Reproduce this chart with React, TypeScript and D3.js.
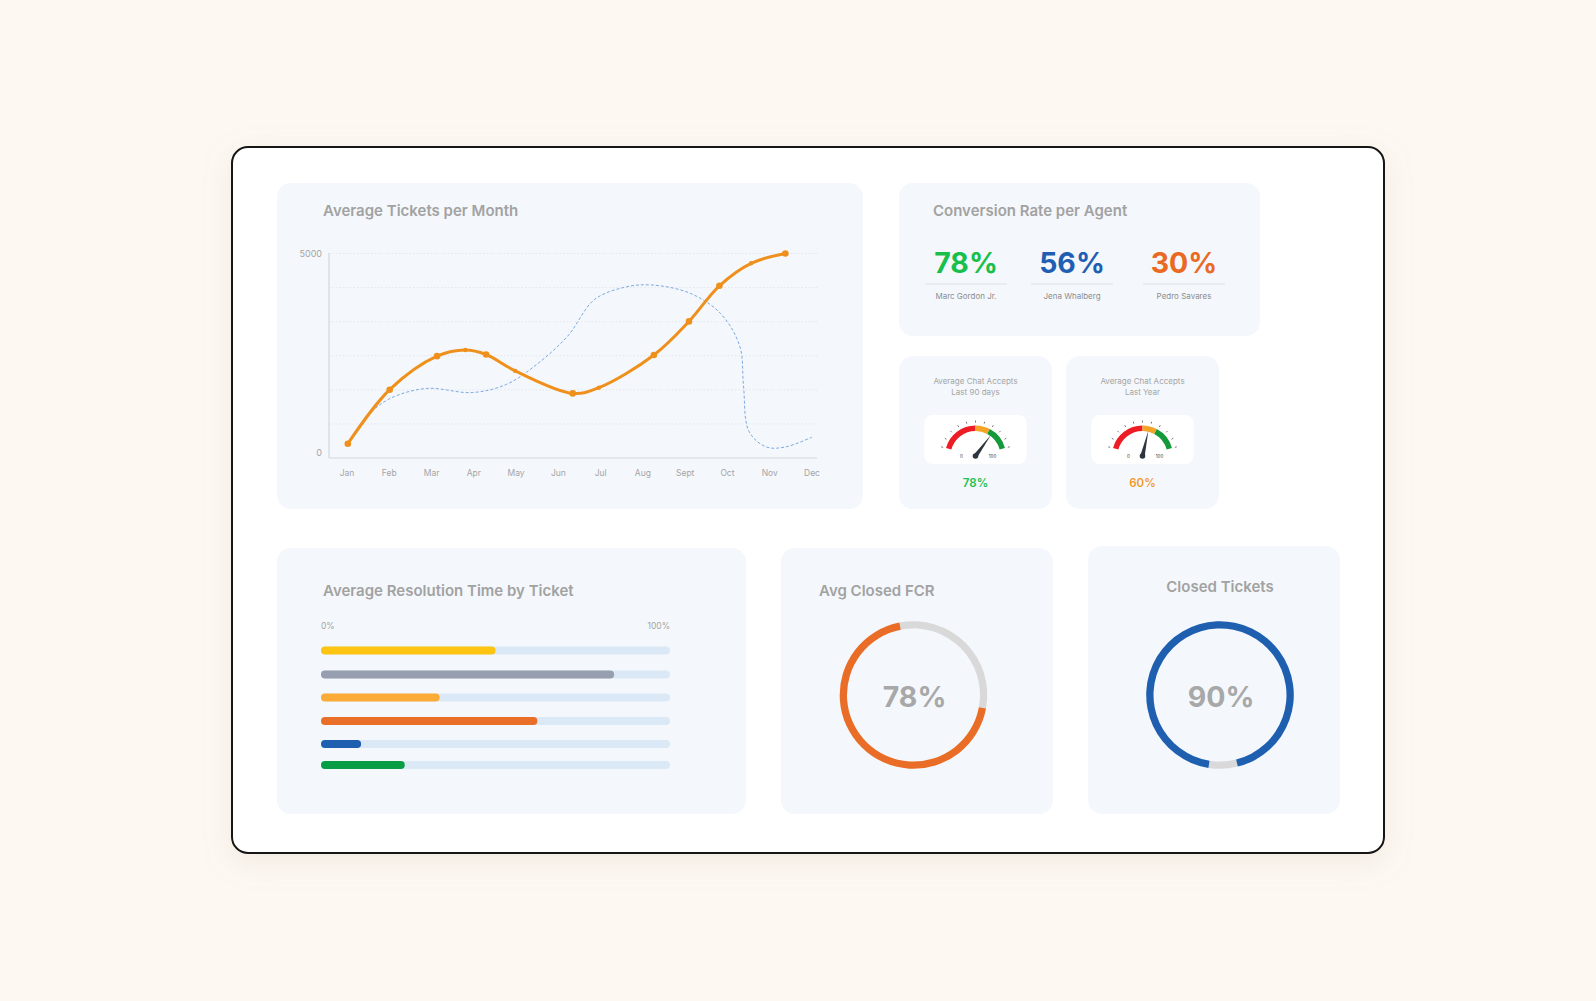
import React from 'react';
import * as d3 from 'd3';

const months = ['Jan', 'Feb', 'Mar', 'Apr', 'May', 'Jun', 'Jul', 'Aug', 'Sept', 'Oct', 'Nov', 'Dec'];
const yTickLabels = [0, 5000];
const gridSteps = 6;
// [month index, tickets]
const orangeSeries: [number, number][] = [
  [0.02, 350], [1.01, 1670], [2.13, 2490], [2.8, 2640], [3.29, 2530], [3.98, 2130],
  [5.34, 1580], [5.96, 1720], [7.26, 2520], [8.09, 3340], [8.81, 4210], [9.56, 4760], [10.37, 5000],
];
const orangeMarkers = [true, true, true, false, true, false, true, false, true, true, true, false, true];
const blueSeries: [number, number][] = [
  [0.02, 350], [0.47, 1010], [0.99, 1440], [1.87, 1700], [2.96, 1600], [3.77, 1800], [4.49, 2290],
  [5.22, 2980], [5.85, 3870], [6.57, 4175], [7.21, 4230], [8.11, 4030], [8.83, 3540], [9.29, 2740],
  [9.38, 1760], [9.51, 650], [9.92, 270], [10.37, 270], [11.0, 510],
];

const agentNames = ['Marc Gordon Jr.', 'Jena Whalberg', 'Pedro Savares'];
const agentRates = [78, 56, 30];
const agentColors = ['#19bf4b', '#1f5fb3', '#ea6a24'];

const gaugeTitles = [['Average Chat Accepts', 'Last 90 days'], ['Average Chat Accepts', 'Last Year']];
const gaugeValues = [78, 60];
const gaugeColors = ['#22c04e', '#f39a2b'];
const gaugeBands: [number, number, string][] = [[-75, 0, '#ee1d25'], [0, 28, '#f6a428'], [28, 75, '#159a3a']];

const resolutionValues = [50, 84, 34, 62, 11.5, 24];
const resolutionColors = ['#fdc512', '#969eb0', '#fdab37', '#e96e28', '#1e5fb0', '#079d45'];

const donutTitles = ['Avg Closed FCR', 'Closed Tickets'];
const donutLabels = [78, 90];
const donutFill = [0.69, 0.936];
const donutGapStart = [-11, 166];
const donutColors = ['#e96d27', '#1e5fb0'];

const FONT = 'Inter, "Open Sans", sans-serif';
const CARD = '#f4f8fc';
const TITLE = '#a2a2a2';

function Card({ x, y, w, h }: { x: number; y: number; w: number; h: number }) {
  return <rect x={x} y={y} width={w} height={h} rx={14} fill={CARD} />;
}

function LineChart() {
  const x = d3.scaleLinear().domain([0, 11]).range([347, 812]);
  const y = d3.scaleLinear().domain([0, 5000]).range([458, 253.5]);
  const line = d3.line<[number, number]>().x(d => x(d[0])).y(d => y(d[1])).curve(d3.curveCatmullRom.alpha(0.5));
  const grid = d3.range(gridSteps + 1).map(i => (i * 5000) / gridSteps);
  return (
    <g>
      <Card x={277} y={183} w={586} h={326} />
      <text x={323} y={216} fontSize={15} fontWeight={600} fill={TITLE} fontFamily={FONT}>Average Tickets per Month</text>
      {grid.slice(1).map((g, i) => (
        <line key={i} x1={329} x2={817} y1={y(g)} y2={y(g)} stroke="#e3e7ec" strokeDasharray="1.5,2" />
      ))}
      <line x1={329} x2={329} y1={253} y2={458} stroke="#d3d7dd" strokeWidth={1.2} />
      <line x1={329} x2={817} y1={458} y2={458} stroke="#d3d7dd" strokeWidth={1.2} />
      {yTickLabels.map(v => (
        <text key={v} x={322} y={v === 0 ? y(v) - 2 : y(v) + 3} textAnchor="end" fontSize={9} fill="#a5a5a5" fontFamily={FONT}>{v}</text>
      ))}
      {months.map((m, i) => (
        <text key={m} x={x(i)} y={476} textAnchor="middle" fontSize={8.5} fill="#a5a5a5" fontFamily={FONT}>{m}</text>
      ))}
      <path d={line(blueSeries) || ''} fill="none" stroke="#7ea8e0" strokeWidth={1} strokeDasharray="3,2" />
      <path d={line(orangeSeries) || ''} fill="none" stroke="#f0901c" strokeWidth={3} strokeLinecap="round" />
      {orangeSeries.map((d, i) => (
        <circle key={i} cx={x(d[0])} cy={y(d[1])} r={orangeMarkers[i] ? 3.3 : 2.2} fill="#f0901c" />
      ))}
    </g>
  );
}

function Conversion() {
  const cx = [966, 1072, 1184];
  return (
    <g>
      <Card x={899} y={183} w={361} h={153} />
      <text x={933} y={216} fontSize={15} fontWeight={600} fill={TITLE} fontFamily={FONT}>Conversion Rate per Agent</text>
      {agentRates.map((r, i) => (
        <g key={i}>
          <text x={cx[i]} y={273} textAnchor="middle" fontSize={28.5} fontWeight={700} fill={agentColors[i]} fontFamily={FONT}>{r}%</text>
          <line x1={cx[i] - 41} x2={cx[i] + 41} y1={284} y2={284} stroke="#dde2e8" strokeWidth={1} />
          <text x={cx[i]} y={299} textAnchor="middle" fontSize={8} fill="#8d8d8d" fontFamily={FONT}>{agentNames[i]}</text>
        </g>
      ))}
    </g>
  );
}

function Gauge({ i }: { i: number }) {
  const cardX = i === 0 ? 899 : 1066;
  const cx = cardX + 76.5;
  const cy = 456;
  const rad = (deg: number) => (deg * Math.PI) / 180;
  const arc = d3.arc<any>().innerRadius(25).outerRadius(30.5);
  const needle = d3.scaleLinear().domain([0, 100]).range([-65, 65]);
  const a = rad(needle(gaugeValues[i]));
  const len = 26;
  const tx = cx + len * Math.sin(a);
  const ty = cy - len * Math.cos(a);
  const px = Math.cos(a) * 2.2;
  const py = Math.sin(a) * 2.2;
  const ticks = d3.range(11).map(k => -75 + k * 15);
  return (
    <g>
      <Card x={cardX} y={356} w={153} h={153} />
      {gaugeTitles[i].map((t, k) => (
        <text key={k} x={cx} y={384 + k * 11} textAnchor="middle" fontSize={8} fill="#a4a4a4" fontFamily={FONT}>{t}</text>
      ))}
      <rect x={cx - 51} y={415} width={102} height={49} rx={8} fill="#ffffff" />
      <g transform={`translate(${cx},${cy})`}>
        {gaugeBands.map(([s, e, c], k) => (
          <path key={k} d={arc({ startAngle: rad(s), endAngle: rad(e) }) || ''} fill={c} />
        ))}
        {ticks.map((t, k) => (
          <line key={k} x1={33.5 * Math.sin(rad(t))} y1={-33.5 * Math.cos(rad(t))} x2={35.5 * Math.sin(rad(t))} y2={-35.5 * Math.cos(rad(t))} stroke="#555" strokeWidth={0.8} />
        ))}
        <text x={-14} y={2} textAnchor="middle" fontSize={4.5} fill="#333" fontFamily={FONT}>0</text>
        <text x={17} y={2} textAnchor="middle" fontSize={4.5} fill="#333" fontFamily={FONT}>100</text>
      </g>
      <path d={`M${cx - px},${cy - py} L${tx},${ty} L${cx + px},${cy + py} Z`} fill="#2d3540" />
      <circle cx={cx} cy={cy} r={2.8} fill="#2d3540" />
      <text x={cx} y={487} textAnchor="middle" fontSize={11.5} fontWeight={600} fill={gaugeColors[i]} fontFamily={FONT}>{gaugeValues[i]}%</text>
    </g>
  );
}

function Resolution() {
  const x = d3.scaleLinear().domain([0, 100]).range([321, 670]);
  const ys = [650.5, 674.5, 697.5, 721, 744, 765];
  return (
    <g>
      <Card x={277} y={548} w={469} h={266} />
      <text x={323} y={596} fontSize={15} fontWeight={600} fill={TITLE} fontFamily={FONT}>Average Resolution Time by Ticket</text>
      <text x={321} y={629} fontSize={8.5} fill="#a5a5a5" fontFamily={FONT}>0%</text>
      <text x={670} y={629} textAnchor="end" fontSize={8.5} fill="#a5a5a5" fontFamily={FONT}>100%</text>
      {resolutionValues.map((v, i) => (
        <g key={i}>
          <rect x={x(0)} y={ys[i] - 4} width={x(100) - x(0)} height={8} rx={4} fill="#dbe9f6" />
          <rect x={x(0)} y={ys[i] - 4} width={x(v) - x(0)} height={8} rx={4} fill={resolutionColors[i]} />
        </g>
      ))}
    </g>
  );
}

function Donut({ i }: { i: number }) {
  const card = i === 0 ? { x: 781, y: 548, w: 272, h: 266 } : { x: 1088, y: 546, w: 252, h: 268 };
  const cx = i === 0 ? 913.5 : 1220;
  const cy = 695;
  const rad = (deg: number) => (deg * Math.PI) / 180;
  const arc = d3.arc<any>().innerRadius(66.5).outerRadius(73.8);
  const gapStart = donutGapStart[i];
  const gapEnd = gapStart + (1 - donutFill[i]) * 360;
  return (
    <g>
      <Card {...card} />
      {i === 0 ? (
        <text x={819} y={596} fontSize={15} fontWeight={600} fill={TITLE} fontFamily={FONT}>{donutTitles[i]}</text>
      ) : (
        <text x={1220} y={592} textAnchor="middle" fontSize={15} fontWeight={600} fill={TITLE} fontFamily={FONT}>{donutTitles[i]}</text>
      )}
      <g transform={`translate(${cx},${cy})`}>
        <path d={arc({ startAngle: rad(gapStart), endAngle: rad(gapEnd) }) || ''} fill="#d9d9d9" />
        <path d={arc({ startAngle: rad(gapEnd), endAngle: rad(gapStart + 360) }) || ''} fill={donutColors[i]} />
        <text x={1} y={12} textAnchor="middle" fontSize={28.5} fontWeight={700} fill="#a8a8a8" fontFamily={FONT}>{donutLabels[i]}%</text>
      </g>
    </g>
  );
}

export default function App() {
  return (
    <svg width={1596} height={1001} style={{ position: 'absolute', left: 0, top: 0 }}>
      <defs>
        <filter id="sh" x="-10%" y="-10%" width="120%" height="130%">
          <feDropShadow dx={0} dy={8} stdDeviation={14} floodColor="#b9a98f" floodOpacity={0.18} />
        </filter>
      </defs>
      <rect width={1596} height={1001} fill="#fdf8f2" />
      <rect x={232} y={147} width={1152} height={706} rx={16} fill="#ffffff" stroke="#161616" strokeWidth={2} filter="url(#sh)" />
      <LineChart />
      <Conversion />
      <Gauge i={0} />
      <Gauge i={1} />
      <Resolution />
      <Donut i={0} />
      <Donut i={1} />
    </svg>
  );
}
